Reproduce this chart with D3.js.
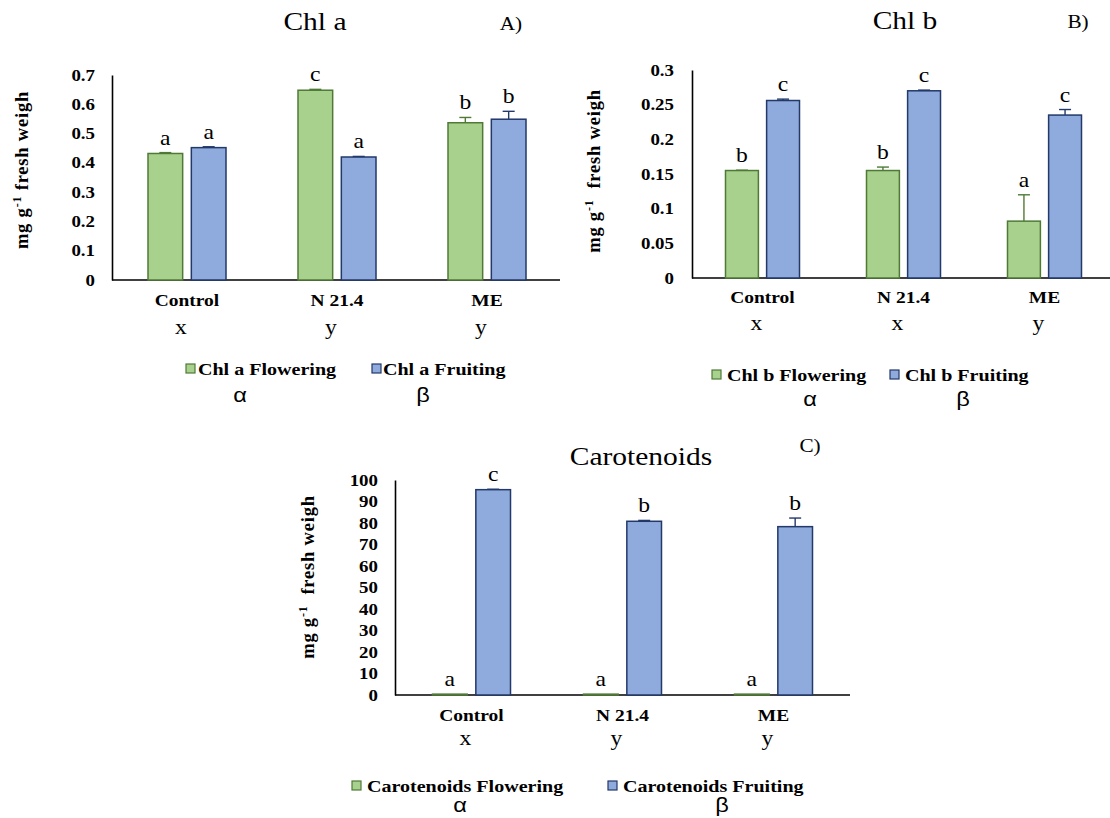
<!DOCTYPE html>
<html>
<head>
<meta charset="utf-8">
<script src="https://cdn.jsdelivr.net/npm/d3@7"></script>
<style>
  body { margin: 0; background: #fff; }
  svg text { font-family: "Liberation Serif", "Times New Roman", serif; fill: #000; }
  .sx-start { transform-box: fill-box; transform-origin: 0% 50%; transform: scaleX(1.18); }
  .sx-mid { transform-box: fill-box; transform-origin: 50% 50%; transform: scaleX(1.18); }
  .sx-end { transform-box: fill-box; transform-origin: 100% 50%; transform: scaleX(1.18); }
</style>
</head>
<body>
<svg id="chart" width="1110" height="818"></svg>
<script>
// shared categories
const treatments = ['Control', 'N 21.4', 'ME'];
const stages = ['Flowering', 'Fruiting'];
const stageGreek = ['α', 'β'];

// Chl a
const chlaFlowering = [0.432, 0.648, 0.537];
const chlaFloweringErr = [0.003, 0.003, 0.018];
const chlaFruiting = [0.452, 0.420, 0.549];
const chlaFruitingErr = [0.003, 0.002, 0.027];
const chlaFloweringLetters = ['a', 'c', 'b'];
const chlaFruitingLetters = ['a', 'a', 'b'];
const chlaTreatLetters = ['x', 'y', 'y'];
const chlaTicks = [0, 0.1, 0.2, 0.3, 0.4, 0.5, 0.6, 0.7];

// Chl b
const chlbFlowering = [0.155, 0.155, 0.082];
const chlbFloweringErr = [0.0005, 0.005, 0.038];
const chlbFruiting = [0.256, 0.270, 0.235];
const chlbFruitingErr = [0.002, 0.001, 0.008];
const chlbFloweringLetters = ['b', 'b', 'a'];
const chlbFruitingLetters = ['c', 'c', 'c'];
const chlbTreatLetters = ['x', 'x', 'y'];
const chlbTicks = [0, 0.05, 0.1, 0.15, 0.2, 0.25, 0.3];

// Carotenoids
const carFlowering = [0.4, 0.4, 0.4];
const carFloweringErr = [0, 0, 0];
const carFruiting = [95.5, 80.8, 78.3];
const carFruitingErr = [0.2, 0.4, 4.0];
const carFloweringLetters = ['a', 'a', 'a'];
const carFruitingLetters = ['c', 'b', 'b'];
const carTreatLetters = ['x', 'y', 'y'];
const carTicks = [0, 10, 20, 30, 40, 50, 60, 70, 80, 90, 100];

const fills = { Flowering: '#a9d18e', Fruiting: '#8faadc' };
const strokes = { Flowering: '#4f7a36', Fruiting: '#22396a' };

const svg = d3.select('#chart');

function drawPanel(p) {
  const g = svg.append('g');

  const x0 = d3.scaleBand().domain(treatments).range(p.bandRange);
  const x1 = d3.scaleBand().domain(stages).range([0, p.pairWidth]).paddingInner(p.barGap);
  const y = d3.scaleLinear().domain([0, p.yMax]).range([p.yBottom, p.yTop]);
  const pairStart = t => x0(t) + (x0.bandwidth() - p.pairWidth) / 2;

  // y axis: line + tick labels
  const yAxis = g.append('g')
    .attr('transform', `translate(${p.axisX},0)`)
    .call(d3.axisLeft(y).tickValues(p.ticks).tickSize(0).tickSizeOuter(0).tickPadding(p.tickPad)
      .tickFormat(d => d === 0 ? '0' : String(+d.toFixed(2))));
  yAxis.select('.domain').attr('stroke', '#000').attr('stroke-width', 1.6);
  yAxis.selectAll('text')
    .attr('class', 'sx-end')
    .style('font-family', '"Liberation Serif", serif')
    .style('font-size', '16px')
    .style('font-weight', 'bold');

  // x axis line
  g.append('line')
    .attr('x1', p.axisX).attr('x2', p.xEnd)
    .attr('y1', p.yBottom).attr('y2', p.yBottom)
    .attr('stroke', '#000').attr('stroke-width', 1.6);

  // category labels
  const xAxis = g.append('g')
    .attr('transform', `translate(0,${p.yBottom})`)
    .call(d3.axisBottom(x0).tickSize(0));
  xAxis.select('.domain').remove();
  xAxis.selectAll('text')
    .attr('y', p.catDy).attr('dy', null)
    .attr('class', 'sx-mid')
    .style('font-family', '"Liberation Serif", serif')
    .style('font-size', '16.5px')
    .style('font-weight', 'bold');

  // treatment letters (x / y)
  g.selectAll('text.treat')
    .data(treatments)
    .join('text')
    .attr('class', 'treat sx-mid')
    .attr('x', t => x0(t) + x0.bandwidth() / 2 + p.treatShift)
    .attr('y', p.treatY)
    .attr('text-anchor', 'middle')
    .style('font-size', '20px')
    .text((t, i) => p.treatLetters[i]);

  // bars
  stages.forEach((s, si) => {
    const rows = treatments.map((t, i) => ({
      t, v: p.values[si][i], e: p.errors[si][i], letter: p.letters[si][i]
    }));
    const cx = d => pairStart(d.t) + x1(s) + x1.bandwidth() / 2;

    g.selectAll(`rect.bar-${s}`)
      .data(rows)
      .join('rect')
      .attr('class', `bar-${s}`)
      .attr('x', d => pairStart(d.t) + x1(s))
      .attr('width', x1.bandwidth())
      .attr('y', d => y(d.v))
      .attr('height', d => p.yBottom - y(d.v))
      .attr('fill', fills[s])
      .attr('stroke', strokes[s])
      .attr('stroke-width', 1.5);

    // error bars (positive only)
    const eb = g.selectAll(`g.err-${s}`)
      .data(rows.filter(d => d.e > 0))
      .join('g')
      .attr('class', `err-${s}`)
      .attr('stroke', strokes[s])
      .attr('stroke-width', 1.4);
    eb.append('line')
      .attr('x1', cx).attr('x2', cx)
      .attr('y1', d => y(d.v)).attr('y2', d => y(d.v + d.e));
    eb.append('line')
      .attr('x1', d => cx(d) - 6).attr('x2', d => cx(d) + 6)
      .attr('y1', d => y(d.v + d.e)).attr('y2', d => y(d.v + d.e));

    // significance letters
    g.selectAll(`text.sig-${s}`)
      .data(rows)
      .join('text')
      .attr('class', `sig-${s} sx-mid`)
      .attr('x', cx)
      .attr('y', d => y(d.v + d.e) - 8)
      .attr('text-anchor', 'middle')
      .style('font-size', '20px')
      .text(d => d.letter);
  });

  // title and panel tag
  g.append('text')
    .attr('class', 'sx-mid')
    .attr('x', p.titleX).attr('y', p.titleY)
    .attr('text-anchor', 'middle')
    .style('font-size', '25px')
    .text(p.title);
  g.append('text')
    .attr('class', 'sx-mid')
    .attr('x', p.tagX).attr('y', p.tagY)
    .attr('text-anchor', 'middle')
    .style('font-size', '18px')
    .text(p.tag);

  // y label
  const yl = g.append('text')
    .attr('transform', `translate(${p.ylabX},${p.ylabY}) rotate(-90)`)
    .attr('text-anchor', 'middle')
    .attr('dy', '0.35em')
    .style('font-size', '18.5px')
    .style('font-weight', 'bold')
    .style('letter-spacing', '0.8px');
  yl.append('tspan').text('mg g');
  yl.append('tspan').attr('baseline-shift', 'super').style('font-size', '12px').text('-1');
  yl.append('tspan').text(p.ylabGap + 'fresh weigh');

  // legend
  const leg = g.append('g');
  stages.forEach((s, si) => {
    leg.append('rect')
      .attr('x', p.legSquareX[si]).attr('y', p.legY - 5)
      .attr('width', 9).attr('height', 9)
      .attr('fill', fills[s])
      .attr('stroke', strokes[s])
      .attr('stroke-width', 1.2);
    leg.append('text')
      .attr('class', 'sx-start')
      .attr('x', p.legTextX[si]).attr('y', p.legY + 6)
      .style('font-size', '17px')
      .style('font-weight', 'bold')
      .text(`${p.seriesName} ${s}`);
    leg.append('text')
      .attr('class', 'sx-mid')
      .attr('x', p.greekX[si]).attr('y', p.greekY)
      .attr('text-anchor', 'middle')
      .style('font-family', '"Liberation Sans", sans-serif')
      .style('font-size', '20px')
      .text(stageGreek[si]);
  });
}

drawPanel({
  title: 'Chl a', tag: 'A)', seriesName: 'Chl a',
  values: [chlaFlowering, chlaFruiting], errors: [chlaFloweringErr, chlaFruitingErr],
  letters: [chlaFloweringLetters, chlaFruitingLetters], treatLetters: chlaTreatLetters,
  ticks: chlaTicks, yMax: 0.7,
  axisX: 112, yTop: 75, yBottom: 280, xEnd: 560, bandRange: [112, 562],
  pairWidth: 78, barGap: 0.2, tickPad: 17,
  catDy: 26, treatY: 334, treatShift: -6,
  titleX: 315, titleY: 30, tagX: 511, tagY: 30,
  ylabX: 22, ylabY: 170, ylabGap: ' ',
  legY: 369, legSquareX: [186, 372], legTextX: [198, 383], greekX: [240, 423], greekY: 402
});

drawPanel({
  title: 'Chl b', tag: 'B)', seriesName: 'Chl b',
  values: [chlbFlowering, chlbFruiting], errors: [chlbFloweringErr, chlbFruitingErr],
  letters: [chlbFloweringLetters, chlbFruitingLetters], treatLetters: chlbTreatLetters,
  ticks: chlbTicks, yMax: 0.3,
  axisX: 692, yTop: 70, yBottom: 278, xEnd: 1110, bandRange: [692, 1115],
  pairWidth: 74, barGap: 0.2, tickPad: 18,
  catDy: 25, treatY: 330, treatShift: -6,
  titleX: 905, titleY: 29, tagX: 1078, tagY: 28,
  ylabX: 594, ylabY: 171, ylabGap: '\u00a0 ',
  legY: 375, legSquareX: [712, 890], legTextX: [727, 905], greekX: [810, 963], greekY: 406
});

drawPanel({
  title: 'Carotenoids', tag: 'C)', seriesName: 'Carotenoids',
  values: [carFlowering, carFruiting], errors: [carFloweringErr, carFruitingErr],
  letters: [carFloweringLetters, carFruitingLetters], treatLetters: carTreatLetters,
  ticks: carTicks, yMax: 100,
  axisX: 395, yTop: 480, yBottom: 695, xEnd: 850, bandRange: [396, 849],
  pairWidth: 78, barGap: 0.2, tickPad: 17,
  catDy: 26, treatY: 745, treatShift: -6,
  titleX: 641, titleY: 465, tagX: 810, tagY: 452,
  ylabX: 308, ylabY: 577, ylabGap: '\u00a0 ',
  legY: 786, legSquareX: [352, 608], legTextX: [367, 623], greekX: [460, 722], greekY: 812
});
</script>
</body>
</html>
